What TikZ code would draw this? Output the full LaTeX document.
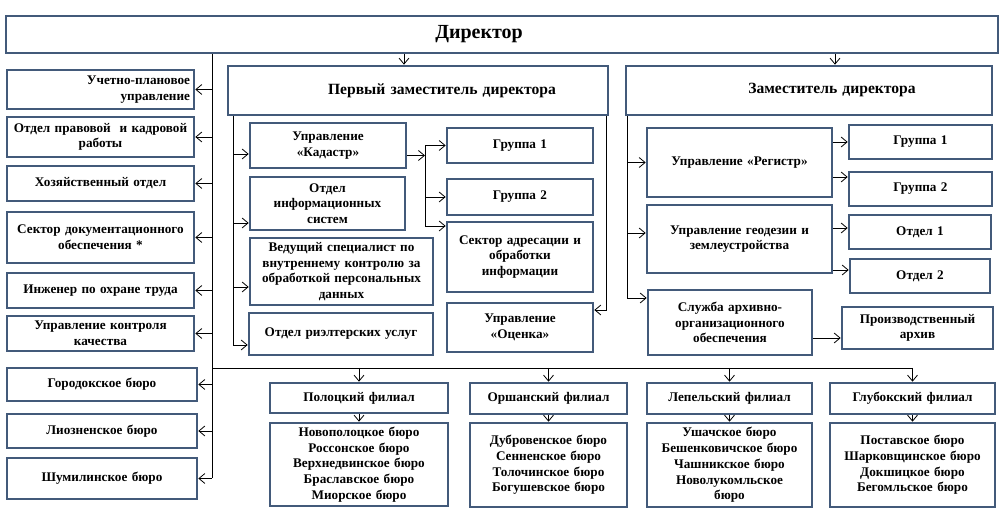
\documentclass[tikz,border=0pt]{standalone}
\usepackage{fontspec}
\setmainfont{Liberation Serif}
\usetikzlibrary{arrows.meta}
\definecolor{bord}{RGB}{67,90,122}
\newcommand{\bx}[7][]{%
  \pgfmathsetmacro\bw{#5-#3}\pgfmathsetmacro\bh{#6-#4}%
  \pgfmathsetmacro\bcx{(#3+#5)/2}\pgfmathsetmacro\bcy{(#4+#6)/2}%
  \pgfmathsetmacro\tw{\bw-8}%
  \node[box,minimum width=\bw pt,minimum height=\bh pt,text width=\tw pt,#1] (#2) at (\bcx,\bcy) {#7};}
\begin{document}
\begin{tikzpicture}[x=1pt,y=-1pt,
  box/.style={draw=bord,line width=2.6pt,fill=white,align=center,inner sep=2pt,
    font=\bfseries\fontsize{13.2}{15.7}\selectfont},
  big/.style={font=\bfseries\fontsize{20}{23}\selectfont},
  dep/.style={font=\bfseries\fontsize{15.6}{18}\selectfont},
  con/.style={line width=0.8pt},
  arr/.style={con,-{Straight Barb[length=6pt,width=10pt]}}]
\useasboundingbox[fill=white] (0,0) rectangle (1005,518);
\spaceskip=0.4em plus 0.1em
% Director
\bx[big]{dir}{6}{16}{998}{53}{\hbox{Директор\kern46pt}}
% left column
\bx[align=right]{ucp}{7}{70}{194}{109}{Учетно-плановое\\управление}
\bx{opk}{7}{117}{194}{157}{Отдел правовой \ и кадровой\\работы}
\bx{hoz}{7}{166}{194}{201}{Хозяйственный отдел}
\bx{sdo}{7}{212}{194}{263}{Сектор документационного\\обеспечения *}
\bx{ing}{7}{273}{194}{308}{Инженер по охране труда}
\bx{ukk}{7}{316}{194}{351}{Управление контроля\\качества}
\bx{gor}{7}{368}{197}{401}{Городокское бюро}
\bx{lio}{7}{414}{197}{448}{Лиозненское бюро}
\bx{shu}{7}{458}{197}{499}{Шумилинское бюро}
% first deputy
\bx[dep]{fd}{228}{66}{608}{115}{\hbox{\kern48pt Первый заместитель директора}}
\bx{kad}{250}{123}{406}{168}{Управление\\«Кадастр»}
\bx{ois}{250}{177}{405}{230}{Отдел\\информационных\\систем}
\bx{ved}{250}{238}{433}{305}{Ведущий специалист по\\внутреннему контролю за\\обработкой персональных\\данных}
\bx{rie}{249}{313}{433}{355}{Отдел риэлтерских услуг}
\bx{ga}{447}{128}{593}{163}{Группа 1}
\bx{gb}{447}{179}{593}{215}{Группа 2}
\bx{sek}{447}{222}{593}{292}{Сектор адресации и\\обработки\\информации}
\bx{oce}{447}{303}{593}{352}{Управление\\«Оценка»}
% second deputy
\bx[dep]{sd}{626}{66}{992}{115}{\hbox{\kern46pt Заместитель директора}}
\bx{reg}{647}{128}{832}{197}{Управление «Регистр»}
\bx{geo}{647}{205}{832}{273}{Управление геодезии и\\землеустройства}
\bx{arh}{648}{290}{812}{355}{Служба архивно-\\организационного\\обеспечения}
\bx{rga}{849}{125}{992}{159}{Группа 1}
\bx{rgb}{849}{172}{992}{206}{Группа 2}
\bx{ota}{849}{215}{991}{249}{Отдел 1}
\bx{otb}{850}{259}{990}{293}{Отдел 2}
\bx{pra}{842}{307}{993}{349}{Производственный\\архив}
% branches
\bx{pol}{270}{383}{448}{413}{Полоцкий филиал}
\bx{polb}{270}{423}{448}{506}{Новополоцкое бюро\\Россонское бюро\\Верхнедвинское бюро\\Браславское бюро\\Миорское бюро}
\bx{ors}{470}{383}{627}{414}{Оршанский филиал}
\bx{orsb}{470}{423}{627}{507}{Дубровенское бюро\\Сенненское бюро\\Толочинское бюро\\Богушевское бюро}
\bx{lep}{647}{383}{812}{414}{Лепельский филиал}
\bx{lepb}{647}{423}{812}{507}{Ушачское бюро\\Бешенковичское бюро\\Чашникское бюро\\Новолукомльское\\бюро}
\bx{glu}{830}{383}{995}{414}{Глубокский филиал}
\bx{glub}{830}{423}{995}{507}{Поставское бюро\\Шарковщинское бюро\\Докшицкое бюро\\Бегомльское бюро}
% coordinates
\coordinate (lb) at (212,0);
\coordinate (hb) at (0,368);
\coordinate (a1) at (404,0);
\coordinate (a2) at (835,0);
\coordinate (fl) at (233,0);
\coordinate (fr) at (606,0);
\coordinate (kv) at (425,0);
\coordinate (sl) at (627,0);
% director links
\draw[arr] (dir.south -| a1) -- (fd.north -| a1);
\draw[arr] (dir.south -| a2) -- (sd.north -| a2);
\draw[con] (dir.south -| lb) -- (shu.east -| lb);
\foreach \b in {ucp,opk,hoz,sdo,ing,ukk,gor,lio,shu}
  \draw[arr] (\b.east -| lb) -- (\b.east);
\draw[con] (hb -| lb) -- (hb -| glu.north);
\foreach \b in {pol,ors,lep,glu}
  \draw[arr] (hb -| \b.north) -- (\b.north);
\draw[arr] (pol.south) -- (polb.north);
\draw[arr] (ors.south) -- (orsb.north);
\draw[arr] (lep.south) -- (lepb.north);
\draw[arr] (glu.south) -- (glub.north);
% first deputy links
\draw[con] (fd.south -| fl) -- ([yshift=-11pt]rie.west -| fl);
\draw[arr] ([yshift=-8.5pt]kad.west -| fl) -- ([yshift=-8.5pt]kad.west);
\draw[arr] ([yshift=-19.5pt]ois.west -| fl) -- ([yshift=-19.5pt]ois.west);
\draw[arr] ([yshift=-15.5pt]ved.west -| fl) -- ([yshift=-15.5pt]ved.west);
\draw[arr] ([yshift=-11pt]rie.west -| fl) -- ([yshift=-11pt]rie.west);
\draw[arr] (fd.south -| fr) |- ([yshift=17.5pt]oce.east);
\draw[arr] ([yshift=-10pt]kad.east) -- ([yshift=-10pt]kad.east -| kv);
\draw[con] (ga.west -| kv) -- ([yshift=31pt]sek.west -| kv);
\draw[arr] (ga.west -| kv) -- (ga.west);
\draw[arr] (gb.west -| kv) -- (gb.west);
\draw[arr] ([yshift=31pt]sek.west -| kv) -- ([yshift=31pt]sek.west);
% second deputy links
\draw[con] (sd.south -| sl) -- ([yshift=24.5pt]arh.west -| sl);
\draw[arr] (reg.west -| sl) -- (reg.west);
\draw[arr] ([yshift=6pt]geo.west -| sl) -- ([yshift=6pt]geo.west);
\draw[arr] ([yshift=24.5pt]arh.west -| sl) -- ([yshift=24.5pt]arh.west);
\draw[arr] (rga.west -| reg.east) -- (rga.west);
\draw[arr] ([yshift=12pt]rgb.west -| reg.east) -- ([yshift=12pt]rgb.west);
\draw[arr] ([yshift=4pt]ota.west -| geo.east) -- ([yshift=4pt]ota.west);
\draw[arr] ([yshift=6pt]otb.west -| geo.east) -- ([yshift=6pt]otb.west);
\draw[arr] ([yshift=-10pt]pra.west -| arh.east) -- ([yshift=-10pt]pra.west);
\end{tikzpicture}
\end{document}
